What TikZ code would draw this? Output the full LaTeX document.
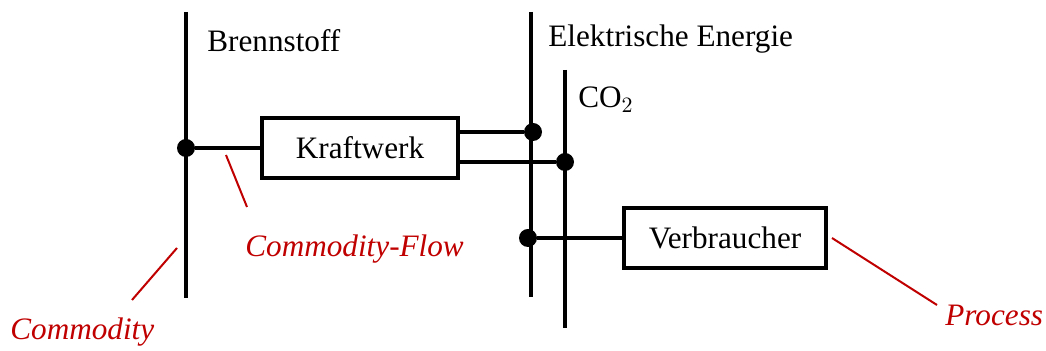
\documentclass[tikz,border=0pt]{standalone}
\usepackage{fontspec}
\setmainfont{Liberation Serif}
\definecolor{notered}{RGB}{192,0,0}
\begin{document}
\fontsize{15.6}{18}\selectfont
\begin{tikzpicture}[x=0.5pt, y=-0.5pt,
	bus/.style={line width=2pt},
	flow/.style={line width=2pt},
	proc/.style={shape=rectangle, draw, line width=2pt, minimum width=98pt, minimum height=30pt, inner sep=0pt},
	joint/.style={shape=circle, fill, inner sep=0pt, minimum size=9pt},
	busname/.style={anchor=base west, inner sep=0pt},
	pointer/.style={notered, line width=1pt},
	remark/.style={notered, font=\itshape, inner sep=0pt}]
	\useasboundingbox (0,0) rectangle (1046,351);
	% commodities
	\coordinate (fuel top) at (186,12);
	\coordinate (fuel bot) at (186,298);
	\coordinate (elec top) at (531,12);
	\coordinate (elec bot) at (531,297);
	\coordinate (co2 top) at (565,70);
	\coordinate (co2 bot) at (565,328);
	\draw[bus] (fuel top) -- (fuel bot);
	\draw[bus] (elec top) -- (elec bot);
	\draw[bus] (co2 top) -- (co2 bot);
	\node[busname] (fuel name) at (207,52) {Brennstoff};
	\node[busname] (elec name) at (548,47) {Elektrische Energie};
	\node[busname] (co2 name) at (578,108) {CO$_2$};
	% processes
	\node[proc] (plant) at (360,148) {Kraftwerk};
	\node[proc, minimum width=101pt] (consumer) at (725,238) {Verbraucher};
	\node[joint] (plant in) at (186,148) {};
	\node[joint] (plant elec) at (533,132) {};
	\node[joint] (plant co2) at (565,162) {};
	\node[joint] (consumer in) at (528,238) {};
	\draw[flow] (plant in) -- (plant.west);
	\draw[flow] (plant.east |- plant elec) -- (plant elec);
	\draw[flow] (plant.east |- plant co2) -- (plant co2);
	\draw[flow] (consumer in) -- (consumer.west);
	% notes
	\node[remark, anchor=base west] (flow note) at (245,257) {Commodity-Flow};
	\node[remark, anchor=base west] (commodity note) at (10,340) {Commodity};
	\node[remark, anchor=base west] (process note) at (945,326) {Process};
	\coordinate (flow tip) at (226,155);
	\coordinate (flow foot) at (247,207);
	\coordinate (commodity tip) at (177,248);
	\coordinate (commodity foot) at (132,300);
	\coordinate (process tip) at (832,238);
	\coordinate (process foot) at (937,305);
	\draw[pointer] (flow tip) -- (flow foot);
	\draw[pointer] (commodity tip) -- (commodity foot);
	\draw[pointer] (process tip) -- (process foot);
\end{tikzpicture}
\end{document}
